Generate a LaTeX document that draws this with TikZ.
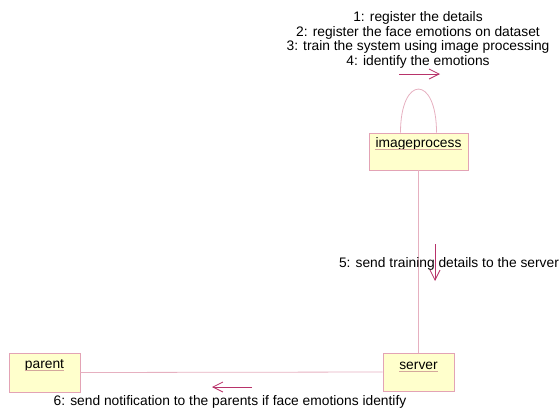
\documentclass[tikz,border=0pt]{standalone}
\usepackage{fontspec}
\setmainfont{Liberation Sans}
\usetikzlibrary{positioning, arrows.meta}

\definecolor{objfill}{HTML}{FFFFCC}
\definecolor{objline}{HTML}{E3A3B5}
\definecolor{linkcol}{HTML}{E6B0C0}
\definecolor{msgcol}{HTML}{B8336A}
\definecolor{ulinecol}{HTML}{D4A89C}

\begin{document}
\begin{tikzpicture}[
    x=1pt, y=-1pt,
    umlobject/.style={rectangle, draw=objline, fill=objfill, line width=0.9pt, inner sep=0pt},
    objname/.style={inner sep=0pt, text height=0.75em, text depth=0.22em, font=\fontsize{13.8}{14.7}\selectfont},
    uline/.style={draw=ulinecol, line width=0.6pt},
    link/.style={draw=linkcol, line width=0.8pt},
    message/.style={-{Straight Barb[length=10pt, width=10pt]}, draw=msgcol, line width=0.8pt},
    msglabel/.style={align=center, inner sep=0pt, font=\fontsize{13.8}{14.7}\selectfont}
]
\useasboundingbox (0,0) rectangle (559,408);

% Objects
\node[umlobject, minimum width=99, minimum height=37] (imageprocess) at (418.5,151.5) {};
\node[umlobject, minimum width=71, minimum height=38] (server) at (418.5,372) {};
\node[umlobject, minimum width=71, minimum height=39] (parent) at (44.5,372.5) {};

\node[objname] (imageprocessname) at ([yshift=-12pt]imageprocess.north) {imageprocess};
\node[objname] (servername) at ([yshift=-14pt]server.north) {server};
\node[objname] (parentname) at ([yshift=-13pt]parent.north) {parent};
\foreach \n in {imageprocessname, servername, parentname}
    \draw[uline] (\n.south west) -- (\n.south east);

% Links
\draw[link] ([xshift=-18pt]imageprocess.north) .. controls +(0,-58) and +(0,-58) .. ([xshift=18pt]imageprocess.north);
\draw[link] (imageprocess.south) -- (server.north);
\draw[link] (parent.east) -- (server.west);

% Messages
\coordinate (m1from) at (399,74);
\coordinate (m1to) at (440,74);
\draw[message] (m1from) -- (m1to);
\node[msglabel] (m1) at (418,40) {1: register the details\\2: register the face emotions on dataset\\3: train the system using image processing\\4: identify the emotions};

\coordinate (m5from) at (435,244);
\coordinate (m5to) at (435,281);
\draw[message] (m5from) -- (m5to);
\node[msglabel] (m5) at (449,264) {5: send training details to the server};

\coordinate (m6from) at (252,387);
\coordinate (m6to) at (212,387);
\draw[message] (m6from) -- (m6to);
\node[msglabel] (m6) at (230,402) {6: send notification to the parents if face emotions identify};

\end{tikzpicture}
\end{document}
